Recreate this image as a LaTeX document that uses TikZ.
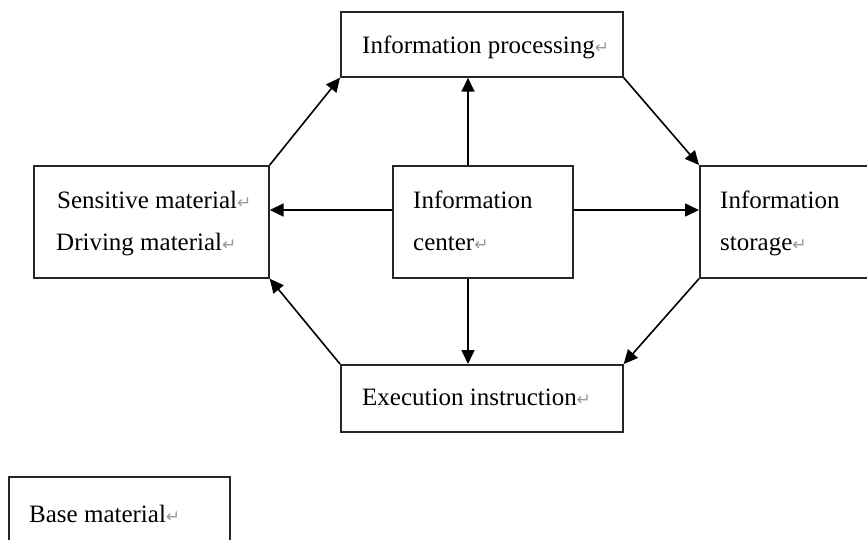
\documentclass[tikz,border=0pt]{standalone}
\usepackage{fontspec}
\setmainfont{Liberation Serif}
\newfontfamily\dejavu{DejaVu Sans}
\usetikzlibrary{arrows.meta}
\newcommand\pmk{{\color{gray!80}\fontsize{17}{17}\selectfont\dejavu ↵}}
\begin{document}
\begin{tikzpicture}[x=1pt,y=-1pt,
  box/.style={draw=black!85,line width=1.7pt,rectangle,inner sep=0pt,anchor=north west},
  lbl/.style={inner sep=0pt,anchor=base west,font=\fontsize{25}{25}\selectfont},
  arr/.style={line width=1.6pt,-{Triangle[length=14pt,width=13pt]}}]
\useasboundingbox (0,0) rectangle (867,539);
\clip (0,0) rectangle (867,539);
\fill[white] (0,0) rectangle (867,539);
% boxes
\node[box,minimum width=282pt,minimum height=65pt] (proc) at (340,11) {};
\node[box,minimum width=235pt,minimum height=112pt] (mat) at (33,165) {};
\node[box,minimum width=180pt,minimum height=112pt] (cen) at (392,165) {};
\node[box,minimum width=200pt,minimum height=112pt] (sto) at (699,165) {};
\node[box,minimum width=282pt,minimum height=67pt] (exe) at (340,364) {};
\node[box,minimum width=221pt,minimum height=80pt] (base) at (8,476) {};
% labels
\node[lbl] (tproc) at (362,53) {Information processing\pmk};
\node[lbl] (tmat1) at (57,208) {Sensitive material\pmk};
\node[lbl] (tmat2) at (56,250) {Driving material\pmk};
\node[lbl] (tcen1) at (413,208) {Information};
\node[lbl] (tcen2) at (413,250) {center\pmk};
\node[lbl] (tsto1) at (720,208) {Information};
\node[lbl] (tsto2) at (720,250) {storage\pmk};
\node[lbl] (texe) at (362,405) {Execution instruction\pmk};
\node[lbl] (tbase) at (29,522) {Base material\pmk};
% helper coordinates
\coordinate (vx) at (468,0);
\coordinate (hy) at (0,210);
% outer arrows
\draw[arr] (mat.north east) -- (proc.south west);
\draw[arr] (proc.south east) -- (sto.north west);
\draw[arr] (sto.south west) -- (exe.north east);
\draw[arr] (exe.north west) -- (mat.south east);
% center arrows
\draw[arr] (cen.north -| vx) -- (proc.south -| vx);
\draw[arr] (cen.south -| vx) -- (exe.north -| vx);
\draw[arr] (cen.west |- hy) -- (mat.east |- hy);
\draw[arr] (cen.east |- hy) -- (sto.west |- hy);
\end{tikzpicture}
\end{document}
